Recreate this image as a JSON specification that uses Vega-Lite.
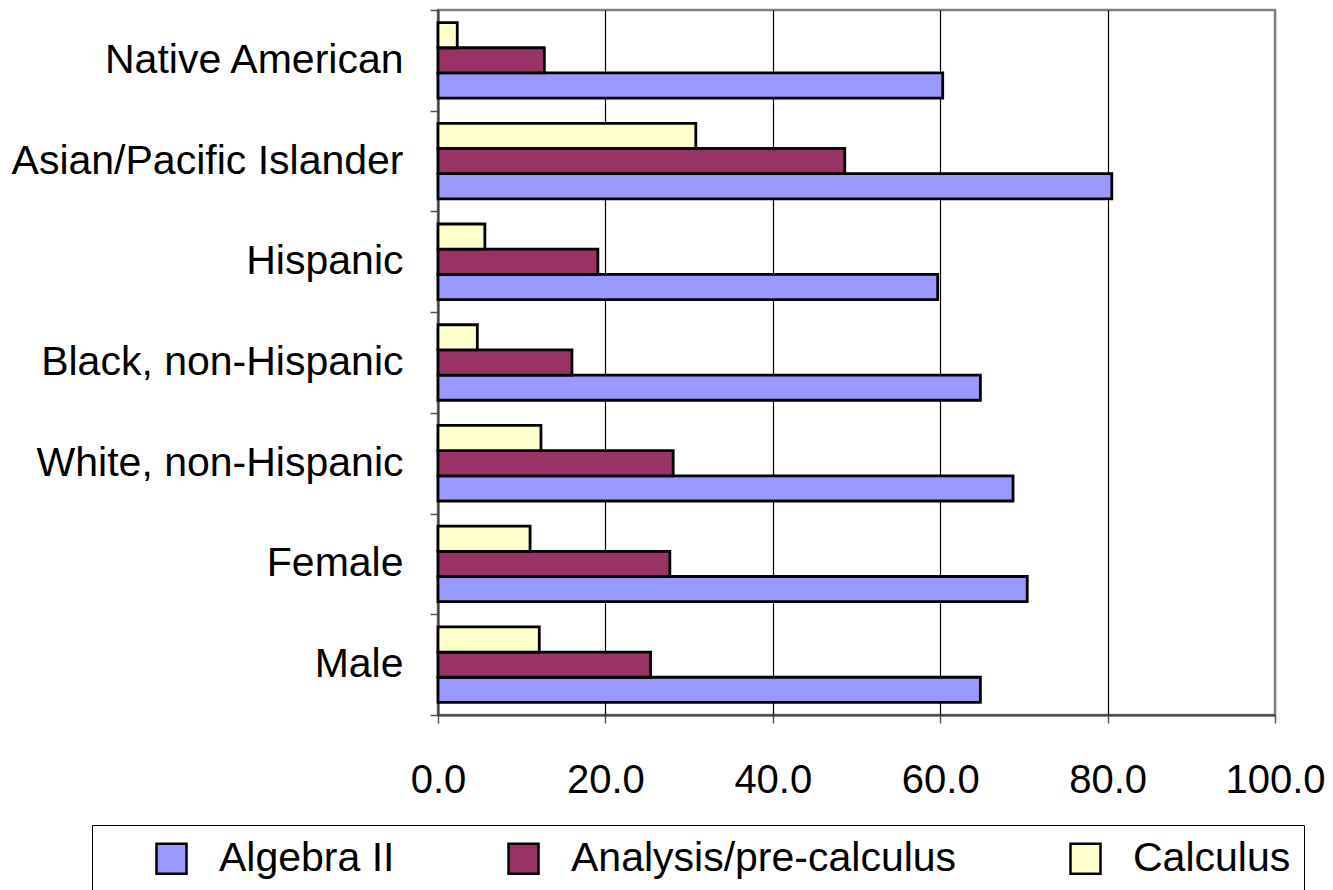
{
  "$schema": "https://vega.github.io/schema/vega-lite/v6.json",
  "width": 837,
  "height": 705,
  "autosize": {"type": "none"},
  "padding": {"left": 438, "top": 10, "right": 58, "bottom": 175},
  "background": "white",
  "config": {
    "font": "Liberation Sans",
    "view": {"stroke": "#808080", "strokeWidth": 2.5}
  },
  "data": {
    "values": [
      {"group": "Native American", "course": "Algebra II", "value": 60.3},
      {"group": "Native American", "course": "Analysis/pre-calculus", "value": 12.7},
      {"group": "Native American", "course": "Calculus", "value": 2.3},
      {"group": "Asian/Pacific Islander", "course": "Algebra II", "value": 80.5},
      {"group": "Asian/Pacific Islander", "course": "Analysis/pre-calculus", "value": 48.6},
      {"group": "Asian/Pacific Islander", "course": "Calculus", "value": 30.8},
      {"group": "Hispanic", "course": "Algebra II", "value": 59.7},
      {"group": "Hispanic", "course": "Analysis/pre-calculus", "value": 19.1},
      {"group": "Hispanic", "course": "Calculus", "value": 5.6},
      {"group": "Black, non-Hispanic", "course": "Algebra II", "value": 64.8},
      {"group": "Black, non-Hispanic", "course": "Analysis/pre-calculus", "value": 16.0},
      {"group": "Black, non-Hispanic", "course": "Calculus", "value": 4.7},
      {"group": "White, non-Hispanic", "course": "Algebra II", "value": 68.7},
      {"group": "White, non-Hispanic", "course": "Analysis/pre-calculus", "value": 28.1},
      {"group": "White, non-Hispanic", "course": "Calculus", "value": 12.3},
      {"group": "Female", "course": "Algebra II", "value": 70.4},
      {"group": "Female", "course": "Analysis/pre-calculus", "value": 27.7},
      {"group": "Female", "course": "Calculus", "value": 11.0},
      {"group": "Male", "course": "Algebra II", "value": 64.8},
      {"group": "Male", "course": "Analysis/pre-calculus", "value": 25.4},
      {"group": "Male", "course": "Calculus", "value": 12.1}
    ]
  },
  "mark": {"type": "bar", "stroke": "black", "strokeWidth": 2.8},
  "encoding": {
    "y": {
      "field": "group",
      "type": "nominal",
      "sort": ["Native American", "Asian/Pacific Islander", "Hispanic", "Black, non-Hispanic", "White, non-Hispanic", "Female", "Male"],
      "scale": {"paddingInner": 0, "paddingOuter": 0},
      "axis": {
        "title": null,
        "tickBand": "extent",
        "labelFontSize": 41,
        "labelColor": "black",
        "labelPadding": 27,
        "labelLimit": 500,
        "tickSize": 8,
        "tickColor": "#555555",
        "tickWidth": 1.5,
        "domainColor": "#404040",
        "domainWidth": 2,
        "grid": false
      }
    },
    "yOffset": {
      "field": "course",
      "type": "nominal",
      "sort": ["Calculus", "Analysis/pre-calculus", "Algebra II"],
      "scale": {"paddingInner": 0, "paddingOuter": 0.5}
    },
    "x": {
      "field": "value",
      "type": "quantitative",
      "scale": {"domain": [0, 100], "nice": false},
      "axis": {
        "title": null,
        "values": [0, 20, 40, 60, 80, 100],
        "format": ".1f",
        "labelFontSize": 40,
        "labelColor": "black",
        "labelPadding": 37,
        "labelFlush": false,
        "tickSize": 8,
        "tickColor": "#555555",
        "tickWidth": 1.5,
        "domainColor": "#404040",
        "domainWidth": 2,
        "grid": true,
        "gridColor": {"condition": {"test": "datum.value === 100", "value": "#808080"}, "value": "black"},
        "gridWidth": 1.2
      }
    },
    "color": {
      "field": "course",
      "type": "nominal",
      "scale": {
        "domain": ["Algebra II", "Analysis/pre-calculus", "Calculus"],
        "range": ["#9999FF", "#993366", "#FFFFCC"]
      },
      "legend": {
        "orient": "none",
        "legendX": -346,
        "legendY": 815,
        "direction": "horizontal",
        "columns": 3,
        "title": " ",
        "titleOrient": "left",
        "titleFontSize": 2,
        "titlePadding": 46,
        "padding": 13,
        "strokeColor": "black",
        "fillColor": "white",
        "symbolType": "square",
        "symbolSize": 900,
        "symbolStrokeColor": "black",
        "symbolStrokeWidth": 2.5,
        "symbolOpacity": 1,
        "labelFontSize": 41,
        "labelColor": "black",
        "labelOffset": 27,
        "labelLimit": 600,
        "columnPadding": 108
      }
    }
  }
}
